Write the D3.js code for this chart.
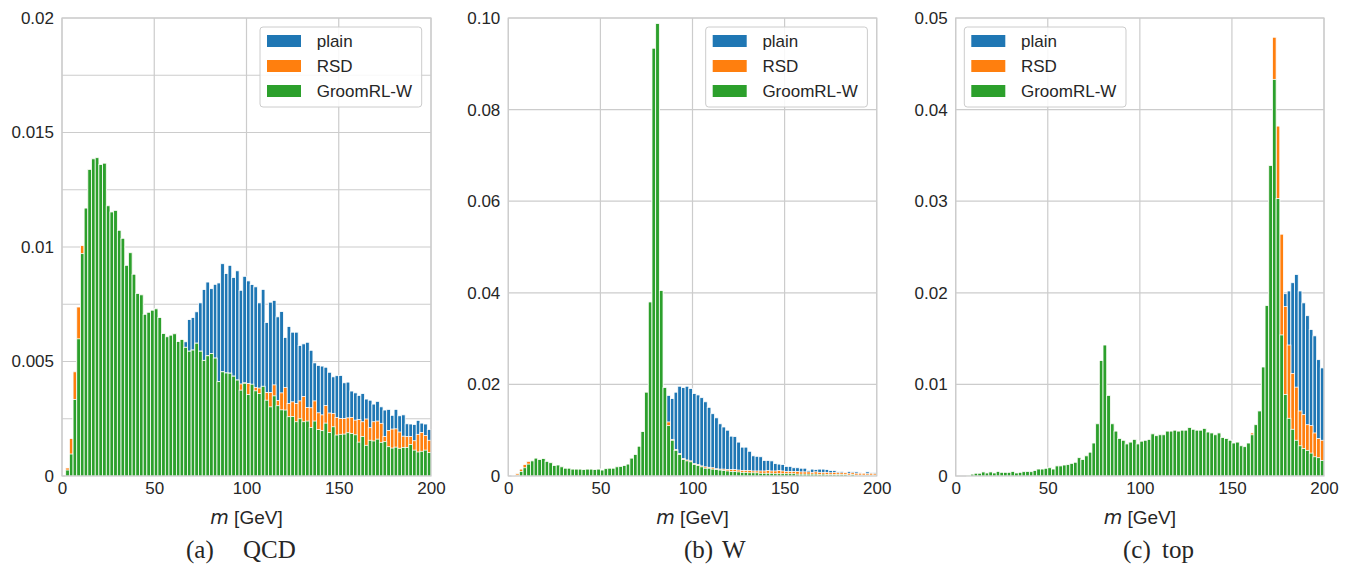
<!DOCTYPE html>
<html>
<head>
<meta charset="utf-8">
<script src="https://cdn.jsdelivr.net/npm/d3@7"></script>
<style>
body { margin: 0; background: #fff; }
svg text { fill: #262626; }
</style>
</head>
<body>
<svg id="chart" width="1351" height="567"></svg>
<script>

// 100 bins of 2 GeV between 0 and 200
var binLo = d3.range(0, 200, 2);
var seriesNames = ["plain", "RSD", "GroomRL-W"];
var seriesColors = ["#1f77b4", "#ff7f0e", "#2ca02c"];
var xTicks = [0, 50, 100, 150, 200];

/// (a) QCD
var qcdPlain = [0, 0.00035, 0.00164, 0.00455, 0.00738, 0.01006, 0.0117, 0.01339, 0.01385, 0.0139,
  0.0136, 0.01366, 0.0118, 0.01153, 0.0116, 0.01073, 0.01038, 0.0092, 0.00975, 0.00881,
  0.00797, 0.00791, 0.00706, 0.00715, 0.00724, 0.0073, 0.00692, 0.00622, 0.00608, 0.00615,
  0.00621, 0.00587, 0.00596, 0.00586, 0.00683, 0.00692, 0.00717, 0.00756, 0.00814, 0.00847,
  0.00818, 0.00837, 0.00843, 0.00927, 0.00884, 0.0092, 0.00867, 0.00896, 0.00811, 0.00872,
  0.00852, 0.00836, 0.00826, 0.00756, 0.00815, 0.0067, 0.00759, 0.00767, 0.00695, 0.00718,
  0.00605, 0.00653, 0.00628, 0.00628, 0.0057, 0.00577, 0.00584, 0.00549, 0.00494, 0.00483,
  0.0048, 0.00475, 0.00453, 0.00433, 0.00438, 0.00439, 0.00407, 0.0041, 0.00371, 0.00363,
  0.00352, 0.0036, 0.00336, 0.00331, 0.00314, 0.00326, 0.00302, 0.00288, 0.00291, 0.00265,
  0.00291, 0.00263, 0.00267, 0.00228, 0.00227, 0.00225, 0.00243, 0.00231, 0.00227, 0.00203];
var qcdRsd = [0, 0.00035, 0.00164, 0.00455, 0.00738, 0.01006, 0.0117, 0.01339, 0.01385, 0.0139,
  0.0136, 0.01366, 0.0118, 0.01153, 0.0116, 0.01073, 0.01038, 0.0092, 0.00975, 0.00881,
  0.00797, 0.00791, 0.00706, 0.00715, 0.00724, 0.0073, 0.00692, 0.00622, 0.00608, 0.00615,
  0.00621, 0.00587, 0.00596, 0.00562, 0.00545, 0.0055, 0.0058, 0.00545, 0.00505, 0.00525,
  0.00535, 0.00515, 0.00412, 0.00455, 0.0045, 0.00449, 0.00436, 0.00419, 0.00402, 0.00407,
  0.00404, 0.0039, 0.00387, 0.00384, 0.0039, 0.00365, 0.00365, 0.00398, 0.0033, 0.00363,
  0.00387, 0.00317, 0.00324, 0.00317, 0.00328, 0.00347, 0.00299, 0.00298, 0.00328, 0.00276,
  0.00267, 0.00308, 0.00275, 0.00273, 0.00256, 0.00251, 0.00251, 0.00254, 0.00256, 0.00244,
  0.00247, 0.00237, 0.00249, 0.00211, 0.00237, 0.0024, 0.0023, 0.00173, 0.00199, 0.00205,
  0.00206, 0.00192, 0.00174, 0.00172, 0.00172, 0.00154, 0.00182, 0.0019, 0.00177, 0.00156];
var qcdGroom = [0, 0.00026, 0.00096, 0.00334, 0.00599, 0.00971, 0.0117, 0.01339, 0.01385, 0.0139,
  0.0136, 0.01366, 0.0118, 0.01153, 0.0116, 0.01073, 0.01038, 0.0092, 0.00975, 0.00881,
  0.00797, 0.00791, 0.00706, 0.00715, 0.00724, 0.0073, 0.00692, 0.00622, 0.00608, 0.00615,
  0.00621, 0.00587, 0.00596, 0.00562, 0.00545, 0.0055, 0.0058, 0.00545, 0.00505, 0.00525,
  0.00535, 0.00515, 0.00412, 0.00455, 0.0045, 0.00449, 0.00436, 0.00419, 0.00375, 0.00405,
  0.00356, 0.00401, 0.00372, 0.0036, 0.00392, 0.00331, 0.00302, 0.0035, 0.00307, 0.00289,
  0.00288, 0.00259, 0.0026, 0.00237, 0.0025, 0.00237, 0.0024, 0.00212, 0.0024, 0.00203,
  0.00198, 0.00231, 0.0019, 0.00215, 0.00179, 0.00182, 0.00183, 0.00189, 0.00186, 0.0018,
  0.00148, 0.00173, 0.00134, 0.00156, 0.00153, 0.00161, 0.00147, 0.0015, 0.00128, 0.00122,
  0.00126, 0.00121, 0.00125, 0.00125, 0.00138, 0.00113, 0.00105, 0.00108, 0.00113, 0.00103];
var qcdYTicks = [0, 0.005, 0.01, 0.015, 0.02];
var qcdYLabels = ["0", "0.005", "0.01", "0.015", "0.02"];

/// (b) W
var wPlain = [0, 0.0001, 0.0005, 0.0015, 0.0025, 0.0032, 0.0034, 0.0039, 0.0036, 0.0038,
  0.0032, 0.0029, 0.0023, 0.0024, 0.002, 0.0017, 0.0017, 0.0015, 0.0015, 0.0015,
  0.0014, 0.0015, 0.0015, 0.0014, 0.0015, 0.0013, 0.0016, 0.0017, 0.0017, 0.002,
  0.0021, 0.0023, 0.0026, 0.0039, 0.0047, 0.0065, 0.0097, 0.0125, 0.014, 0.0155,
  0.0165, 0.0172, 0.0185, 0.0176, 0.0169, 0.0183, 0.0196, 0.0193, 0.0196, 0.0191,
  0.018, 0.0177, 0.0171, 0.0162, 0.015, 0.0136, 0.0127, 0.0114, 0.0107, 0.01,
  0.0087, 0.0086, 0.0074, 0.0063, 0.0063, 0.0054, 0.0044, 0.0043, 0.0042, 0.0034,
  0.0034, 0.0033, 0.0027, 0.0026, 0.0025, 0.0021, 0.0021, 0.0018, 0.0018, 0.0017,
  0.0017, 0.0012, 0.0015, 0.0014, 0.0015, 0.0015, 0.0014, 0.0012, 0.0012, 0.0009,
  0.001, 0.0007, 0.001, 0.0009, 0.0009, 0.0007, 0.0006, 0.0009, 0.0007, 0.0007];
var wRsd = [0, 0.0001, 0.0005, 0.0015, 0.0025, 0.0032, 0.0034, 0.0039, 0.0036, 0.0038,
  0.0032, 0.0029, 0.0023, 0.0024, 0.002, 0.0017, 0.0017, 0.0015, 0.0015, 0.0015,
  0.0014, 0.0015, 0.0015, 0.0014, 0.0015, 0.0013, 0.0016, 0.0017, 0.0017, 0.002,
  0.0021, 0.0023, 0.0026, 0.0039, 0.0047, 0.0065, 0.0097, 0.0183, 0.038, 0.0934,
  0.0988, 0.0405, 0.0193, 0.0118, 0.008, 0.0058, 0.0049, 0.0038, 0.0035, 0.0033,
  0.0027, 0.0025, 0.0022, 0.002, 0.0019, 0.0018, 0.0016, 0.0015, 0.0015, 0.0014,
  0.0014, 0.0014, 0.0013, 0.0012, 0.0012, 0.0012, 0.0011, 0.0011, 0.0011, 0.0011,
  0.0012, 0.0011, 0.0011, 0.0012, 0.0011, 0.001, 0.001, 0.001, 0.001, 0.0009,
  0.0009, 0.0009, 0.0008, 0.0009, 0.0008, 0.0008, 0.0008, 0.0007, 0.0008, 0.0007,
  0.0007, 0.0007, 0.0006, 0.0007, 0.0006, 0.0006, 0.0006, 0.0005, 0.0006, 0.0005];
var wGroom = [0, 0, 0.0002, 0.001, 0.0018, 0.0026, 0.0033, 0.0039, 0.0036, 0.0038,
  0.0032, 0.0029, 0.0023, 0.0024, 0.002, 0.0017, 0.0017, 0.0015, 0.0015, 0.0015,
  0.0014, 0.0015, 0.0015, 0.0014, 0.0015, 0.0013, 0.0016, 0.0017, 0.0017, 0.002,
  0.0021, 0.0023, 0.0026, 0.0039, 0.0047, 0.0065, 0.0097, 0.0183, 0.038, 0.0934,
  0.0988, 0.0405, 0.0193, 0.011, 0.0078, 0.0056, 0.0047, 0.0036, 0.0033, 0.0031,
  0.0025, 0.0023, 0.002, 0.0017, 0.0017, 0.0015, 0.0014, 0.0013, 0.0012, 0.0011,
  0.001, 0.001, 0.0009, 0.0008, 0.0008, 0.0007, 0.0007, 0.0007, 0.0006, 0.0006,
  0.0006, 0.0006, 0.0005, 0.0005, 0.0005, 0.0005, 0.0005, 0.0005, 0.0004, 0.0004,
  0.0004, 0.0004, 0.0004, 0.0004, 0.0003, 0.0004, 0.0003, 0.0003, 0.0003, 0.0003,
  0.0003, 0.0003, 0.0002, 0.0003, 0.0002, 0.0002, 0.0002, 0.0002, 0.0002, 0.0002];
var wYTicks = [0, 0.02, 0.04, 0.06, 0.08, 0.1];
var wYLabels = ["0", "0.02", "0.04", "0.06", "0.08", "0.10"];

/// (c) top
var topPlain = [0, 0, 0, 0.0001, 0.0002, 0.0003, 0.0003, 0.00044, 0.00033, 0.00044,
  0.00033, 0.0005, 0.0004, 0.0004, 0.0004, 0.0005, 0.00033, 0.0004, 0.00047, 0.0005,
  0.00047, 0.0006, 0.00076, 0.00076, 0.00084, 0.0009, 0.00076, 0.0011, 0.0011, 0.0012,
  0.00124, 0.00138, 0.0015, 0.002, 0.0018, 0.0022, 0.0026, 0.0036, 0.0057, 0.0126,
  0.0143, 0.0088, 0.0057, 0.0049, 0.0041, 0.0039, 0.0035, 0.0037, 0.004, 0.0035,
  0.0038, 0.0039, 0.004, 0.0046, 0.0044, 0.0045, 0.0045, 0.0049, 0.0049, 0.005,
  0.0049, 0.005, 0.005, 0.0053, 0.0051, 0.005, 0.005, 0.0052, 0.0048, 0.0047,
  0.0045, 0.0047, 0.0042, 0.0041, 0.0039, 0.0036, 0.0037, 0.0033, 0.0032, 0.0036,
  0.0045, 0.0056, 0.0071, 0.0095, 0.012, 0.0145, 0.0165, 0.018, 0.019, 0.0199,
  0.0202, 0.0211, 0.022, 0.0202, 0.0189, 0.0175, 0.016, 0.0153, 0.0127, 0.0118];
var topRsd = [0, 0, 0, 0.0001, 0.0002, 0.0003, 0.0003, 0.00044, 0.00033, 0.00044,
  0.00033, 0.0005, 0.0004, 0.0004, 0.0004, 0.0005, 0.00033, 0.0004, 0.00047, 0.0005,
  0.00047, 0.0006, 0.00076, 0.00076, 0.00084, 0.0009, 0.00076, 0.0011, 0.0011, 0.0012,
  0.00124, 0.00138, 0.0015, 0.002, 0.0018, 0.0022, 0.0026, 0.0036, 0.0057, 0.0126,
  0.0143, 0.0088, 0.0057, 0.0049, 0.0041, 0.0039, 0.0035, 0.0037, 0.004, 0.0035,
  0.0038, 0.0039, 0.004, 0.0046, 0.0044, 0.0045, 0.0045, 0.0049, 0.0049, 0.005,
  0.0049, 0.005, 0.005, 0.0053, 0.0051, 0.005, 0.005, 0.0052, 0.0048, 0.0047,
  0.0045, 0.0047, 0.0042, 0.0041, 0.0039, 0.0036, 0.0037, 0.0033, 0.0032, 0.0036,
  0.0047, 0.0056, 0.0071, 0.0119, 0.0186, 0.0339, 0.0479, 0.0382, 0.0264, 0.0185,
  0.0143, 0.0112, 0.0097, 0.0071, 0.0067, 0.0056, 0.0055, 0.0047, 0.0041, 0.0039];
var topGroom = [0, 0, 0, 0.0001, 0.0002, 0.0003, 0.0003, 0.00044, 0.00033, 0.00044,
  0.00033, 0.0005, 0.0004, 0.0004, 0.0004, 0.0005, 0.00033, 0.0004, 0.00047, 0.0005,
  0.00047, 0.0006, 0.00076, 0.00076, 0.00084, 0.0009, 0.00076, 0.0011, 0.0011, 0.0012,
  0.00124, 0.00138, 0.0015, 0.002, 0.0018, 0.0022, 0.0026, 0.0036, 0.0057, 0.0126,
  0.0143, 0.0088, 0.0057, 0.0049, 0.0041, 0.0039, 0.0035, 0.0037, 0.004, 0.0035,
  0.0038, 0.0039, 0.004, 0.0046, 0.0044, 0.0045, 0.0045, 0.0049, 0.0049, 0.005,
  0.0049, 0.005, 0.005, 0.0053, 0.0051, 0.005, 0.005, 0.0052, 0.0048, 0.0047,
  0.0045, 0.0047, 0.0042, 0.0041, 0.0039, 0.0036, 0.0037, 0.0033, 0.0032, 0.0036,
  0.0045, 0.0056, 0.0071, 0.0119, 0.0186, 0.0339, 0.0433, 0.0303, 0.0154, 0.0089,
  0.0063, 0.0051, 0.0039, 0.0033, 0.003, 0.0028, 0.0025, 0.0021, 0.002, 0.0017];
var topYTicks = [0, 0.01, 0.02, 0.03, 0.04, 0.05];
var topYLabels = ["0", "0.01", "0.02", "0.03", "0.04", "0.05"];

/// layout of the three panels
var plotTop = 18, plotBottom = 476;
var panels = [
  { left: 62, right: 431, ymax: 0.02, gridStep: 0.0025, yTicks: qcdYTicks, yLabels: qcdYLabels,
    series: [qcdPlain, qcdRsd, qcdGroom], legendX: 260, tag: "(a)", name: "QCD", tagX: 186, nameX: 243 },
  { left: 508.3, right: 876.7, ymax: 0.1, gridStep: 0.02, yTicks: wYTicks, yLabels: wYLabels,
    series: [wPlain, wRsd, wGroom], legendX: 705.7, tag: "(b)", name: "W", tagX: 684, nameX: 722 },
  { left: 955.7, right: 1324, ymax: 0.05, gridStep: 0.01, yTicks: topYTicks, yLabels: topYLabels,
    series: [topPlain, topRsd, topGroom], legendX: 964.3, tag: "(c)", name: "top", tagX: 1123, nameX: 1162 }
];

var svg = d3.select("#chart");
var gridColor = "#cccccc";
var sans = '"Liberation Sans", Arial, sans-serif';
var serif = '"Liberation Serif", "Times New Roman", serif';

panels.forEach(function(p) {
  var g = svg.append("g").style("font-family", sans);
  var x = d3.scaleLinear().domain([0, 200]).range([p.left, p.right]);
  var y = d3.scaleLinear().domain([0, p.ymax]).range([plotBottom, plotTop]);

  /// grid
  var gy = d3.range(0, p.ymax + p.gridStep / 2, p.gridStep);
  g.selectAll(".gy").data(gy).join("line")
    .attr("x1", p.left).attr("x2", p.right)
    .attr("y1", function(d) { return y(d); }).attr("y2", function(d) { return y(d); })
    .attr("stroke", gridColor).attr("stroke-width", 1.2);
  g.selectAll(".gx").data(xTicks).join("line")
    .attr("x1", function(d) { return x(d); }).attr("x2", function(d) { return x(d); })
    .attr("y1", plotTop).attr("y2", plotBottom)
    .attr("stroke", gridColor).attr("stroke-width", 1.2);

  /// histograms drawn over each other: plain, RSD, GroomRL-W
  var bw = x(2) - x(0);
  p.series.forEach(function(vals, si) {
    var bins = binLo.map(function(lo, i) { return { lo: lo, v: vals[i] }; })
      .filter(function(d) { return d.v > 0; });
    g.append("g").selectAll("rect").data(bins).join("rect")
      .attr("x", function(d) { return x(d.lo); })
      .attr("width", bw)
      .attr("y", function(d) { return y(d.v); })
      .attr("height", function(d) { return y(0) - y(d.v); })
      .attr("fill", seriesColors[si])
      .attr("stroke", "#fff")
      .attr("stroke-width", 0.8);
  });

  /// frame
  g.append("rect")
    .attr("x", p.left).attr("y", plotTop)
    .attr("width", p.right - p.left).attr("height", plotBottom - plotTop)
    .attr("fill", "none").attr("stroke", gridColor).attr("stroke-width", 1.2);

  /// axes (labels only)
  var yAxis = d3.axisLeft(y).tickValues(p.yTicks).tickSize(0).tickPadding(8)
    .tickFormat(function(d, i) { return p.yLabels[i]; });
  var ya = g.append("g").attr("transform", "translate(" + p.left + ",0)").call(yAxis);
  ya.select(".domain").remove();
  ya.attr("font-family", null).attr("font-size", 17);
  ya.selectAll("text").attr("fill", "#262626");

  var xAxis = d3.axisBottom(x).tickValues(xTicks).tickSize(0).tickPadding(6)
    .tickFormat(d3.format("d"));
  var xa = g.append("g").attr("transform", "translate(0," + plotBottom + ")").call(xAxis);
  xa.select(".domain").remove();
  xa.attr("font-family", null).attr("font-size", 17);
  xa.selectAll("text").attr("fill", "#262626");

  /// x label
  var xl = g.append("text")
    .attr("x", (p.left + p.right) / 2).attr("y", 524)
    .attr("text-anchor", "middle").attr("font-size", 19);
  xl.append("tspan").style("font-style", "italic").style("font-family", '"DejaVu Sans", sans-serif').text("m");
  xl.append("tspan").text(" [GeV]");

  /// legend
  var lg = g.append("g").attr("transform", "translate(" + p.legendX + ",27)");
  lg.append("rect").attr("width", 161.7).attr("height", 80).attr("rx", 3)
    .attr("fill", "#fff").attr("fill-opacity", 0.85)
    .attr("stroke", gridColor).attr("stroke-width", 1);
  seriesNames.forEach(function(name, i) {
    lg.append("rect").attr("x", 7).attr("y", 8 + i * 25).attr("width", 34).attr("height", 12)
      .attr("fill", seriesColors[i]);
    lg.append("text").attr("x", 56.7).attr("y", 14 + i * 25).attr("dy", "0.35em")
      .attr("font-size", 17).text(name);
  });

  /// caption
  svg.append("text").attr("x", p.tagX).attr("y", 558)
    .style("font-family", serif).attr("font-size", 25)
    .text(p.tag);
  svg.append("text").attr("x", p.nameX).attr("y", 558)
    .style("font-family", serif).attr("font-size", 25)
    .text(p.name);
});

</script>
</body>
</html>
